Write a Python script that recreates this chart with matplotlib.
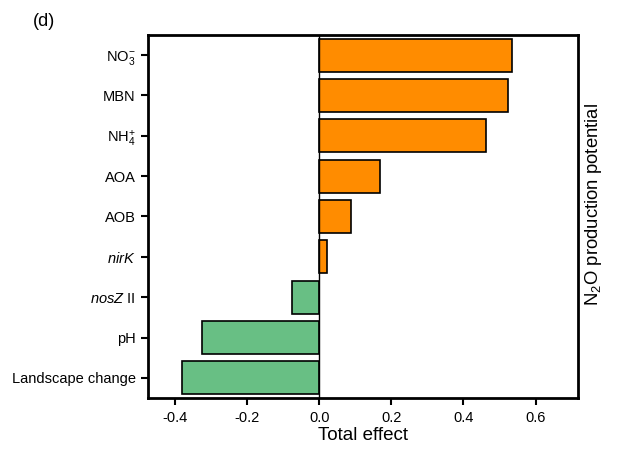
import matplotlib
matplotlib.use("Agg")
import matplotlib.pyplot as plt

plt.rcParams['font.family'] = ['Liberation Sans', 'DejaVu Sans']
plt.rcParams['mathtext.fontset'] = 'custom'
plt.rcParams['mathtext.rm'] = 'Liberation Sans'
plt.rcParams['mathtext.it'] = 'Liberation Sans:italic'
plt.rcParams['mathtext.bf'] = 'Liberation Sans:bold'

categories = [r'NO$_3^{-}$', 'MBN', r'NH$_4^{+}$', 'AOA', 'AOB',
              r'$\it{nirK}$', r'$\it{nosZ}$ II', 'pH', 'Landscape change']
values = [0.536, 0.525, 0.462, 0.167, 0.089, 0.022, -0.077, -0.327, -0.381]
xticks = [-0.4, -0.2, 0.0, 0.2, 0.4, 0.6]

pos_color = '#FF8C00'
neg_color = '#68BF84'

fig = plt.figure(figsize=(6.24, 4.51), dpi=100)
ax = fig.add_axes([148/624, 1-398/451, (578-148)/624, (398-35)/451])

ypos = list(range(len(categories)))[::-1]
colors = [pos_color if v > 0 else neg_color for v in values]
ax.barh(ypos, values, height=0.82, color=colors, edgecolor='black', linewidth=1.2, zorder=3)
ax.axvline(0, color='black', linewidth=1.0, zorder=4)

ax.set_ylim(-0.5, len(categories) - 0.5)
ax.set_xlim(-0.476, 0.718)
ax.set_yticks(ypos)
ax.set_yticklabels(categories, fontsize=10.5)
ax.set_xticks(xticks)
ax.set_xticklabels([f'{t:.1f}' for t in xticks], fontsize=10.5)
ax.tick_params(axis='both', direction='out', length=5, width=1.5, pad=4)
for s in ax.spines.values():
    s.set_linewidth(2)
ax.set_xlabel('Total effect', fontsize=13.5, labelpad=2)

fig.text(33/624, 1-21/451, '(d)', fontsize=13, ha='left', va='center')
fig.text(594/624, 1-204/451, r'N$_2$O production potential', fontsize=13.3,
         rotation=90, ha='center', va='center')

fig.savefig('out.png', dpi=100)
